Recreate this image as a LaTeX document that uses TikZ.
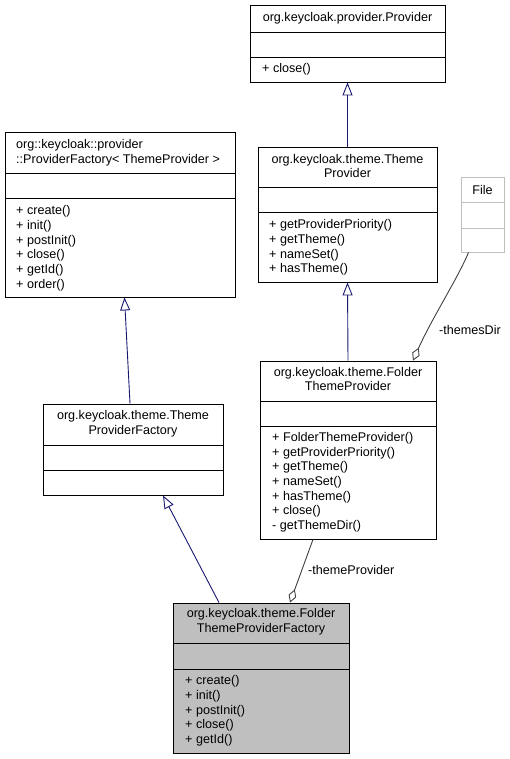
\documentclass[tikz,border=0pt]{standalone}
\usepackage{fontspec}
\setmainfont{Liberation Sans}
\usetikzlibrary{arrows.meta,calc}
\definecolor{edgeblue}{HTML}{191970}
\definecolor{edgegray}{HTML}{404040}
\definecolor{boxgray}{HTML}{BFBFBF}
\begin{document}
\begin{tikzpicture}[x=1pt,y=-1pt,
  txt/.style={font=\fontsize{12.6}{14.7}\selectfont, inner sep=0pt},
  cls/.style={draw=black, line width=0.9pt, inner sep=0pt},
  ext/.style={draw=boxgray, line width=0.9pt, inner sep=0pt},
  sep/.style={line width=0.9pt},
  inh/.style={draw=edgeblue, line width=0.9pt, -{Triangle[open, length=13pt, width=10pt]}},
  agg/.style={draw=edgegray, line width=0.9pt, -{Diamond[open, length=14pt, width=8pt]}},
  lbl/.style={font=\fontsize{12.6}{14.7}\selectfont, inner sep=0pt}]
\useasboundingbox (0,0) rectangle (509,759);

% Provider
\node[cls, fill=white, minimum width=195pt, minimum height=77pt] (prov) at (347.5,43.5) {};
\draw[sep] (250,32) -- (445,32) (250,57) -- (445,57);
\node[txt] (provt) at (347.5,18.5) {org.keycloak.provider.Provider};
\node[txt, anchor=north west, align=left] (provm) at (262,63.5) {+ close()};

% ThemeProvider
\node[cls, fill=white, minimum width=179pt, minimum height=135pt] (tp) at (347.5,214.5) {};
\draw[sep] (258,187) -- (437,187) (258,212) -- (437,212);
\node[txt, align=center] (tpt) at (347.5,166) {org.keycloak.theme.Theme\\Provider};
\node[txt, anchor=north west, align=left] (tpm) at (269,219.5) {+ getProviderPriority()\\+ getTheme()\\+ nameSet()\\+ hasTheme()};

% File
\node[ext, fill=white, minimum width=43pt, minimum height=75pt] (file) at (482.5,214.5) {};
\draw[sep, boxgray] (461,202) -- (504,202) (461,228) -- (504,228);
\node[txt] (filet) at (482.5,189.5) {File};

% ProviderFactory
\node[cls, fill=white, minimum width=230pt, minimum height=165pt] (pf) at (120,214.5) {};
\draw[sep] (5,173) -- (235,173) (5,198) -- (235,198);
\node[txt, anchor=north west, align=left] (pft) at (16,139.5) {org::keycloak::provider\\::ProviderFactory< ThemeProvider >};
\node[txt, anchor=north west, align=left] (pfm) at (16,205.5) {+ create()\\+ init()\\+ postInit()\\+ close()\\+ getId()\\+ order()};

% ThemeProviderFactory
\node[cls, fill=white, minimum width=180pt, minimum height=91pt] (tpf) at (133,449.5) {};
\draw[sep] (43,445) -- (223,445) (43,470) -- (223,470);
\node[txt, align=center] (tpft) at (133,424) {org.keycloak.theme.Theme\\ProviderFactory};

% FolderThemeProvider
\node[cls, fill=white, minimum width=176pt, minimum height=178pt] (ftp) at (348,450) {};
\draw[sep] (260,401) -- (436,401) (260,426) -- (436,426);
\node[txt, align=center] (ftpt) at (348,379) {org.keycloak.theme.Folder\\ThemeProvider};
\node[txt, anchor=north west, align=left] (ftpm) at (272,432) {+ FolderThemeProvider()\\+ getProviderPriority()\\+ getTheme()\\+ nameSet()\\+ hasTheme()\\+ close()\\- getThemeDir()};

% FolderThemeProviderFactory
\node[cls, fill=boxgray, minimum width=176pt, minimum height=150pt] (ftpf) at (261,678) {};
\draw[sep] (173,643) -- (349,643) (173,669) -- (349,669);
\node[txt, align=center] (ftpft) at (261,622) {org.keycloak.theme.Folder\\ThemeProviderFactory};
\node[txt, anchor=north west, align=left] (ftpfm) at (185,675.5) {+ create()\\+ init()\\+ postInit()\\+ close()\\+ getId()};

% Inheritance edges
\draw[inh] (tp.north) -- (prov.south);
\draw[inh] (ftp.north) -- (tp.south);
\draw[inh] ([xshift=-3pt]tpf.north) -- ([xshift=4.5pt]pf.south);
\draw[inh] ([xshift=-42pt]ftpf.north) -- ([xshift=30pt]tpf.south);

% Aggregation edges
\draw[agg] ([xshift=-14pt]file.south) .. controls (458,278) and (432,318) .. ([xshift=65pt]ftp.north);
\node[lbl, anchor=west] (lbl1) at (439,330) {-themesDir};
\draw[agg] ([xshift=-35pt]ftp.south) -- ([xshift=29pt]ftpf.north);
\node[lbl, anchor=west] (lbl2) at (308,570) {-themeProvider};
\end{tikzpicture}
\end{document}
